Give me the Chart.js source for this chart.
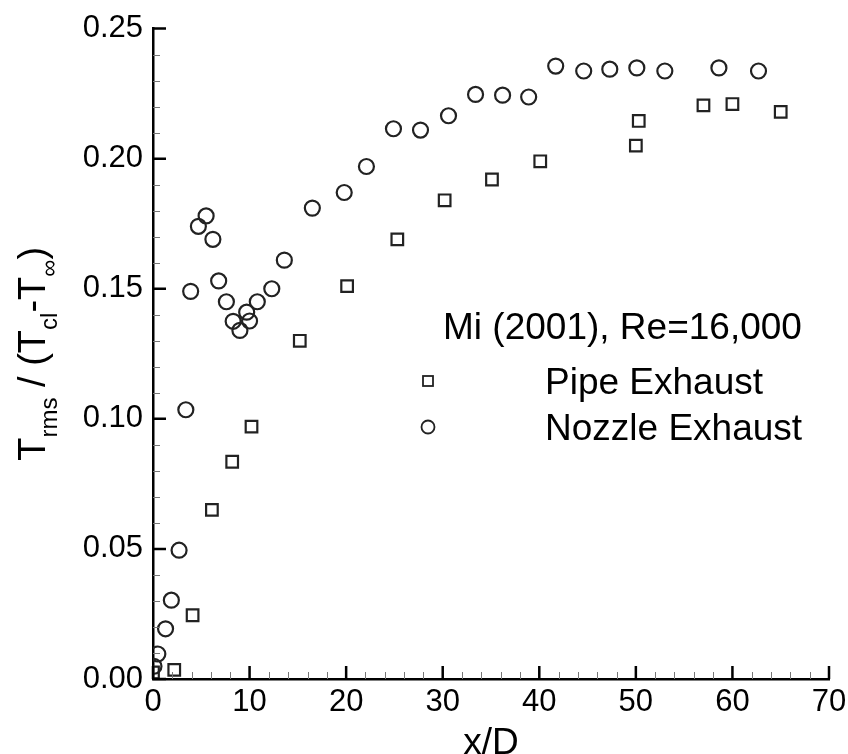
<!DOCTYPE html>
<html>
<head>
<meta charset="utf-8">
<script src="https://cdn.jsdelivr.net/npm/chart.js@4/dist/chart.umd.min.js"></script>
<style>
  html, body { margin: 0; padding: 0; background: #fff; }
  #wrap { width: 848px; height: 754px; }
</style>
</head>
<body>
<div id="wrap"><canvas id="trmsChart" width="848" height="754"></canvas></div>
<script>
// Mi (2001), Re=16,000 - centreline rms temperature
const pipeX = [0.0, 2.2, 4.1, 6.1, 8.2, 10.2, 15.2, 20.1, 25.3, 30.2, 35.1, 40.1, 50.0, 50.3, 57.0, 60.0, 65.0];
const pipeY = [0.0025, 0.0035, 0.0245, 0.065, 0.0835, 0.097, 0.130, 0.151, 0.169, 0.184, 0.192, 0.199, 0.205, 0.2145, 0.2205, 0.221, 0.218];

const nozzleX = [0.1, 0.5, 1.3, 1.9, 2.7, 3.4, 3.9, 4.7, 5.5, 6.2, 6.8, 7.6, 8.3, 9.0, 9.7, 10.0, 10.8, 12.3, 13.6,
  16.5, 19.8, 22.1, 24.9, 27.7, 30.6, 33.4, 36.2, 38.9, 41.7, 44.6, 47.3, 50.1, 53.0, 58.6, 62.7];
const nozzleY = [0.0049, 0.0096, 0.0193, 0.0303, 0.0495, 0.1035, 0.149, 0.174, 0.178, 0.169, 0.153, 0.145, 0.1375, 0.134, 0.141, 0.1376, 0.145, 0.150, 0.161,
  0.181, 0.187, 0.197, 0.2115, 0.211, 0.2165, 0.2247, 0.2244, 0.2237, 0.2356, 0.2337, 0.2344, 0.2349, 0.2337, 0.2349, 0.2337];

const xTicks = [0, 10, 20, 30, 40, 50, 60, 70];
const yTicks = [0.00, 0.05, 0.10, 0.15, 0.20, 0.25];
const legendTitle = "Mi (2001), Re=16,000";
const seriesNames = ["Pipe Exhaust", "Nozzle Exhaust"];

const FONT = "'Liberation Sans', Arial, Helvetica, sans-serif";
const INK = "#000";
const MARK = "#222";

// tecplot-style inward ticks, axis titles and the text legend
const decorPlugin = {
  id: "decor",
  afterDraw(chart) {
    const ctx = chart.ctx;
    const xs = chart.scales.x;
    const ys = chart.scales.y;
    const area = chart.chartArea;
    ctx.save();

    // minor ticks
    ctx.strokeStyle = "#777";
    ctx.lineWidth = 1;
    ctx.beginPath();
    for (let v = 0; v <= 70; v += 2) {
      if (v % 10 === 0) continue;
      const px = Math.round(xs.getPixelForValue(v)) + 0.5;
      ctx.moveTo(px, area.bottom);
      ctx.lineTo(px, area.bottom - 7);
    }
    for (let i = 0; i <= 25; i++) {
      if (i % 5 === 0) continue;
      const py = Math.round(ys.getPixelForValue(i / 100)) + 0.5;
      ctx.moveTo(area.left, py);
      ctx.lineTo(area.left + 7, py);
    }
    ctx.stroke();

    // major ticks
    ctx.strokeStyle = INK;
    ctx.lineWidth = 2.5;
    ctx.beginPath();
    xTicks.forEach((v) => {
      const px = xs.getPixelForValue(v);
      ctx.moveTo(px, area.bottom);
      ctx.lineTo(px, area.bottom - 13);
    });
    yTicks.forEach((v) => {
      const py = ys.getPixelForValue(v);
      ctx.moveTo(area.left, py);
      ctx.lineTo(area.left + 13, py);
    });
    ctx.stroke();

    ctx.fillStyle = INK;

    // x title
    ctx.font = "37px " + FONT;
    ctx.textAlign = "center";
    ctx.textBaseline = "alphabetic";
    ctx.fillText("x/D", (area.left + area.right) / 2, 754);

    // y title with subscripts
    const parts = [
      ["T", false], ["rms", true], [" / (T", false], ["cl", true],
      ["-T", false], ["\u221e", true], [")", false],
    ];
    const bigFont = "38px " + FONT;
    const subFont = "24px " + FONT;
    let total = 0;
    parts.forEach(([t, sub]) => {
      ctx.font = sub ? subFont : bigFont;
      total += ctx.measureText(t).width;
    });
    ctx.translate(45, (area.top + area.bottom) / 2);
    ctx.rotate(-Math.PI / 2);
    ctx.textAlign = "left";
    let cx = -total / 2;
    parts.forEach(([t, sub]) => {
      ctx.font = sub ? subFont : bigFont;
      ctx.fillText(t, cx, sub ? 12 : 0);
      cx += ctx.measureText(t).width;
    });
    ctx.setTransform(1, 0, 0, 1, 0, 0);

    // legend
    ctx.font = "37px " + FONT;
    ctx.textAlign = "left";
    ctx.fillText(legendTitle, 443, 339);
    ctx.fillText(seriesNames[0], 545, 394);
    ctx.fillText(seriesNames[1], 545, 440);

    ctx.strokeStyle = MARK;
    ctx.lineWidth = 1.8;
    ctx.strokeRect(423, 376, 10, 10);
    ctx.beginPath();
    ctx.arc(428, 427, 6.5, 0, Math.PI * 2);
    ctx.stroke();

    ctx.restore();
  },
};

const ctx = document.getElementById("trmsChart");

new Chart(ctx, {
  type: "scatter",
  data: {
    datasets: [
      {
        label: seriesNames[0],
        data: pipeX.map((x, i) => ({ x: x, y: pipeY[i] })),
        pointStyle: "rect",
        pointRadius: 8.2,
        borderColor: MARK,
        backgroundColor: "rgba(0,0,0,0)",
        borderWidth: 2.2,
      },
      {
        label: seriesNames[1],
        data: nozzleX.map((x, i) => ({ x: x, y: nozzleY[i] })),
        pointStyle: "circle",
        pointRadius: 7.5,
        borderColor: MARK,
        backgroundColor: "rgba(0,0,0,0)",
        borderWidth: 2.2,
      },
    ],
  },
  options: {
    responsive: false,
    animation: false,
    events: [],
    layout: { padding: { left: 0, right: 19, top: 25, bottom: 0 } },
    plugins: {
      legend: { display: false },
      tooltip: { enabled: false },
    },
    scales: {
      x: {
        type: "linear",
        min: 0,
        max: 70,
        afterFit: (scale) => {
          scale.height = 75;
          scale.paddingRight = 0;
        },
        afterBuildTicks: (scale) => { scale.ticks = xTicks.map((v) => ({ value: v })); },
        border: { display: true, color: INK, width: 2.5 },
        grid: { display: false, drawTicks: false },
        ticks: {
          color: INK,
          font: { family: FONT, size: 31 },
          padding: 5,
          maxRotation: 0,
          callback: (v) => String(v),
        },
      },
      y: {
        type: "linear",
        min: 0,
        max: 0.25,
        afterFit: (scale) => { scale.width = 153; },
        afterBuildTicks: (scale) => { scale.ticks = yTicks.map((v) => ({ value: v })); },
        border: { display: true, color: INK, width: 2.5 },
        grid: { display: false, drawTicks: false },
        ticks: {
          color: INK,
          font: { family: FONT, size: 31 },
          padding: 10,
          callback: (v) => Number(v).toFixed(2),
        },
      },
    },
  },
  plugins: [decorPlugin],
});
</script>
</body>
</html>
